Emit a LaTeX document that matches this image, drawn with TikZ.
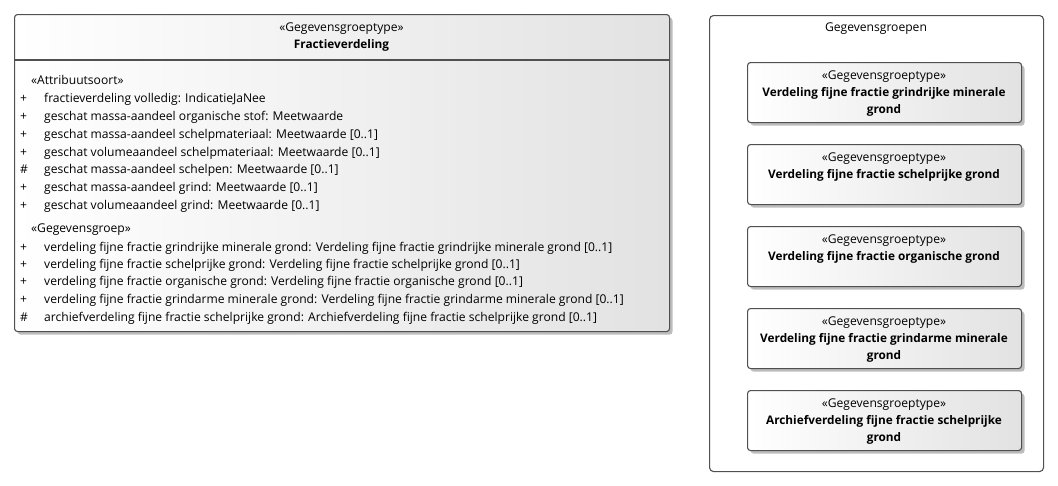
\documentclass[tikz,border=0pt]{standalone}
\usepackage{fontspec}
\setmainfont{Open Sans}
\usetikzlibrary{shadows}
\definecolor{bordergray}{HTML}{505050}
\definecolor{fillgray}{HTML}{E2E2E2}
\definecolor{shadowgray}{HTML}{BDBDBD}
\newcommand{\myfnt}{\fontsize{12.1}{15}\selectfont}
\newcommand{\mybfnt}{\fontsize{11.8}{15}\selectfont\bfseries}
\begin{document}
\begin{tikzpicture}[x=1pt,y=-1pt,
  every node/.style={font=\myfnt, inner sep=0pt, text=black},
  umlbox/.style={draw=bordergray, line width=1.1pt, rounded corners=3pt,
    left color=white, right color=fillgray,
    drop shadow={shadow xshift=3pt,shadow yshift=-3pt,fill=shadowgray,opacity=1},
    anchor=north west},
  grpbox/.style={draw=bordergray, line width=1.1pt, rounded corners=4pt, fill=white, anchor=north west},
  txt/.style={anchor=base west},
  ctxt/.style={anchor=base},
  bt/.style={anchor=base, font=\mybfnt}]
\useasboundingbox (0,0) rectangle (1058,485);

% main class
\node[umlbox, minimum width=655pt, minimum height=317pt] (cls) at (14,14) {};
\coordinate (dv) at (0,60);
\draw[bordergray, line width=1.1pt] (cls.west |- dv) -- (cls.east |- dv);
\node[ctxt] (clsst) at (341.5,31) {«Gegevensgroeptype»};
\node[bt] (clsnm) at (341.5,48) {Fractieverdeling};

\node[txt] (st1) at (31,84) {«Attribuutsoort»};
\node[txt] (v1) at (20,102) {+}; \node[txt] (a1) at (44,102) {fractieverdeling volledig: IndicatieJaNee};
\node[txt] (v2) at (20,120) {+}; \node[txt] (a2) at (44,120) {geschat massa-aandeel organische stof: Meetwaarde};
\node[txt] (v3) at (20,138) {+}; \node[txt] (a3) at (44,138) {geschat massa-aandeel schelpmateriaal: Meetwaarde [0..1]};
\node[txt] (v4) at (20,156) {+}; \node[txt] (a4) at (44,156) {geschat volumeaandeel schelpmateriaal: Meetwaarde [0..1]};
\node[txt] (v5) at (20,173) {\#}; \node[txt] (a5) at (44,173) {geschat massa-aandeel schelpen: Meetwaarde [0..1]};
\node[txt] (v6) at (20,191) {+}; \node[txt] (a6) at (44,191) {geschat massa-aandeel grind: Meetwaarde [0..1]};
\node[txt] (v7) at (20,209) {+}; \node[txt] (a7) at (44,209) {geschat volumeaandeel grind: Meetwaarde [0..1]};

\node[txt] (st2) at (31,232) {«Gegevensgroep»};
\node[txt] (w1) at (20,251) {+}; \node[txt] (g1) at (44,251) {verdeling fijne fractie grindrijke minerale grond: Verdeling fijne fractie grindrijke minerale grond [0..1]};
\node[txt] (w2) at (20,268) {+}; \node[txt] (g2) at (44,268) {verdeling fijne fractie schelprijke grond: Verdeling fijne fractie schelprijke grond [0..1]};
\node[txt] (w3) at (20,285) {+}; \node[txt] (g3) at (44,285) {verdeling fijne fractie organische grond: Verdeling fijne fractie organische grond [0..1]};
\node[txt] (w4) at (20,303) {+}; \node[txt] (g4) at (44,303) {verdeling fijne fractie grindarme minerale grond: Verdeling fijne fractie grindarme minerale grond [0..1]};
\node[txt] (w5) at (20,321) {\#}; \node[txt] (g5) at (44,321) {archiefverdeling fijne fractie schelprijke grond: Archiefverdeling fijne fractie schelprijke grond [0..1]};

% group container
\node[grpbox, minimum width=334pt, minimum height=456pt] (grp) at (709,15) {};
\node[ctxt] (grpt) at (876,31) {Gegevensgroepen};

% box 1
\node[umlbox, minimum width=274pt, minimum height=60pt] (b1) at (747,62) {};
\node[ctxt] (b1s) at (884,79) {«Gegevensgroeptype»};
\node[bt] (b1a) at (884,96) {Verdeling fijne fractie grindrijke minerale};
\node[bt] (b1b) at (884,113) {grond};
% box 2
\node[umlbox, minimum width=274pt, minimum height=60pt] (b2) at (747,144) {};
\node[ctxt] (b2s) at (884,161) {«Gegevensgroeptype»};
\node[bt] (b2a) at (884,178) {Verdeling fijne fractie schelprijke grond};
% box 3
\node[umlbox, minimum width=274pt, minimum height=60pt] (b3) at (747,226) {};
\node[ctxt] (b3s) at (884,243) {«Gegevensgroeptype»};
\node[bt] (b3a) at (884,260) {Verdeling fijne fractie organische grond};
% box 4
\node[umlbox, minimum width=274pt, minimum height=60pt] (b4) at (747,308) {};
\node[ctxt] (b4s) at (884,325) {«Gegevensgroeptype»};
\node[bt] (b4a) at (884,342) {Verdeling fijne fractie grindarme minerale};
\node[bt] (b4b) at (884,359) {grond};
% box 5
\node[umlbox, minimum width=274pt, minimum height=60pt] (b5) at (747,390) {};
\node[ctxt] (b5s) at (884,407) {«Gegevensgroeptype»};
\node[bt] (b5a) at (884,424) {Archiefverdeling fijne fractie schelprijke};
\node[bt] (b5b) at (884,441) {grond};
\end{tikzpicture}
\end{document}
